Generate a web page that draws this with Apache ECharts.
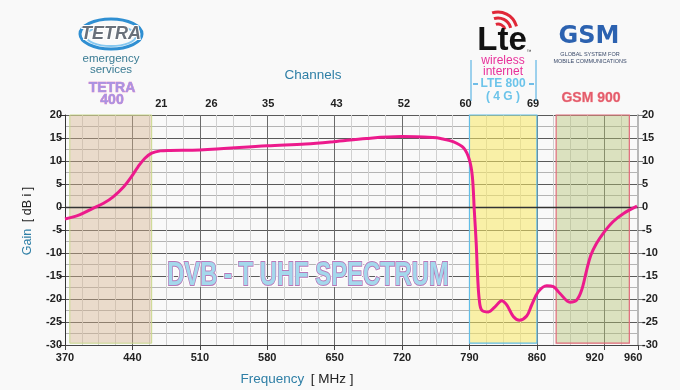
<!DOCTYPE html>
<html><head><meta charset="utf-8">
<script src="https://cdn.jsdelivr.net/npm/echarts@6/dist/echarts.min.js"></script>
<style>html,body{margin:0;padding:0;background:#f9f9f9}#c{width:680px;height:390px}</style>
</head><body><div id="c"></div>
<script>
// ---- data ----
const freqMHz = [370,385,399,410,420,431,439,446,453,460,469,479,510,580,620,649,683,720,752,760,773,784,790,793,795,797,798.5,800.2,802.7,809.6,816.5,823.5,828.7,835.5,841.8,849.4,854.6,861.5,870.2,877.1,884,894.4,901.4,906.6,911.7,916,922,930,939,950,964];
const gainDBi = [-2.6,-1.7,-0.3,0.8,2.2,4.4,6.6,8.8,10.6,11.7,12.2,12.3,12.4,13.3,13.7,14.2,14.9,15.3,15.1,14.9,14.2,12.8,10.2,6.6,-0.7,-7.9,-15.2,-20.2,-22.4,-22.8,-21.7,-20.4,-21.3,-23.8,-24.6,-23.7,-21.3,-18.4,-17.1,-17.3,-18.8,-20.7,-20.2,-18,-13.7,-10.5,-7.9,-5.4,-3.2,-1.4,0.2];
const freqTickValues = [370,440,510,580,650,720,790,860,920,960];
const channelTickFreqs = [470,522,581,652,722,786,856];
const channelLabels = ['21','26','35','43','52','60','69'];
const bandNames = ['TETRA 400','LTE 800','GSM 900'];
const bandStart = [375,790,880];
const bandEnd = [460,860,956];
const bandTop = 20, bandBottom = -29.6;

const FONT = '"Liberation Sans", Arial, sans-serif';
const bandStyles = [
  {color:'rgba(214,178,140,0.42)', borderColor:'#c9d98c', borderWidth:1},
  {color:'rgba(250,234,100,0.55)', borderColor:'#62bde6', borderWidth:1.2},
  {color:'rgba(178,192,112,0.42)', borderColor:'#e06a7a', borderWidth:1.2}
];

const chart = echarts.init(document.getElementById('c'));
const lineData = freqMHz.map((f,i)=>[f,gainDBi[i]]);
const markAreaData = bandNames.map((n,i)=>[
  {name:n, xAxis:bandStart[i], yAxis:bandTop, itemStyle:bandStyles[i]},
  {xAxis:bandEnd[i], yAxis:bandBottom}
]);

const tickLabelStyle = {color:'#222', fontSize:11, fontWeight:'bold', fontFamily:FONT};

function txt(x,y,text,style,extra){
  return Object.assign({type:'text', x:x, y:y, z:10, style:Object.assign({text:text, align:'center', verticalAlign:'middle', textAlign:'center', textVerticalAlign:'middle'}, style)}, extra||{});
}

chart.setOption({
  backgroundColor:'#f9f9f9',
  animation:false,
  grid:{left:65, right:42, top:115, bottom:45},
  xAxis:[
    {type:'value', min:370, max:965, interval:17.5, position:'bottom',
     axisLine:{show:false}, axisTick:{show:false}, axisLabel:{show:false},
     splitLine:{show:true, lineStyle:{color:'#d0d0d0', width:1}}},
    {type:'value', min:370, max:965, interval:70, position:'bottom',
     axisLine:{show:true, onZero:false, lineStyle:{color:'#444', width:1}},
     axisTick:{show:true, length:5, lineStyle:{color:'#444'}},
     axisLabel:Object.assign({customValues:freqTickValues, margin:7}, tickLabelStyle),
     splitLine:{show:true, lineStyle:{color:'#6a6a6a', width:1}}},
    {type:'value', min:370, max:965, position:'top',
     axisLine:{show:false}, axisTick:{show:false}, splitLine:{show:false},
     axisLabel:Object.assign({customValues:channelTickFreqs, margin:6,
       formatter:function(v){const i=channelTickFreqs.indexOf(v); return i>=0?channelLabels[i]:'';}}, tickLabelStyle)}
  ],
  yAxis:[
    {type:'value', min:-30, max:20, interval:5, position:'left',
     axisLine:{show:true, lineStyle:{color:'#333'}},
     axisTick:{show:true, length:6, lineStyle:{color:'#333'}},
     axisLabel:Object.assign({margin:3}, tickLabelStyle),
     splitLine:{show:true, lineStyle:{color:'#5a5a5a', width:1}},
     minorTick:{show:false, splitNumber:2},
     minorSplitLine:{show:true, lineStyle:{color:'#b4b4b4', width:1}}},
    {type:'value', min:-30, max:20, interval:5, position:'right',
     axisLine:{show:true, lineStyle:{color:'#b8b8b8', width:2}},
     axisTick:{show:true, length:5, lineStyle:{color:'#777'}},
     axisLabel:Object.assign({margin:4}, tickLabelStyle),
     splitLine:{show:false}}
  ],
  series:[{
    type:'line', xAxisIndex:1, yAxisIndex:0, data:lineData,
    smooth:0.35, showSymbol:false, symbol:'none',
    lineStyle:{color:'#ec1a8c', width:3}, z:5,
    markArea:{silent:true, label:{show:false}, data:markAreaData},
    markLine:{silent:true, symbol:'none', label:{show:false},
      lineStyle:{color:'#333', width:1.3, type:'solid'}, data:[{yAxis:0}]}
  }],
  graphic:[
    // TETRA logo
    {type:'ellipse', z:9, shape:{cx:111, cy:34, rx:31, ry:15}, style:{fill:'none', stroke:'#2f8fd2', lineWidth:3}},
    {type:'ellipse', z:9, shape:{cx:111, cy:36, rx:25, ry:10}, style:{fill:'none', stroke:'#86c8f0', lineWidth:2}},
    txt(111,34,'TETRA',{font:'italic bold 18px '+FONT, fill:'#69707a', stroke:'#ffffff', lineWidth:2}),
    txt(111,59,'emergency',{font:'11.5px '+FONT, fill:'#3b7c94'}),
    txt(111,69.5,'services',{font:'11.5px '+FONT, fill:'#3b7c94'}),
    txt(112,88,'TETRA',{font:'bold 14px '+FONT, fill:'#a993e2', stroke:'#e070c0', lineWidth:0.6}),
    txt(112,100,'400',{font:'bold 14px '+FONT, fill:'#a993e2', stroke:'#e070c0', lineWidth:0.6}),
    // LTE logo
    {type:'arc', z:9, shape:{cx:498, cy:31, r:7, startAngle:-Math.PI*0.6, endAngle:-Math.PI*0.08}, style:{fill:'none', stroke:'#e02838', lineWidth:3}},
    {type:'arc', z:9, shape:{cx:498, cy:31, r:13, startAngle:-Math.PI*0.6, endAngle:-Math.PI*0.08}, style:{fill:'none', stroke:'#e02838', lineWidth:3}},
    {type:'arc', z:9, shape:{cx:498, cy:31, r:19, startAngle:-Math.PI*0.6, endAngle:-Math.PI*0.08}, style:{fill:'none', stroke:'#e02838', lineWidth:3}},
    txt(502,41,'Lte',{font:'bold 33px '+FONT, fill:'#111'}),
    txt(529,52,'™',{font:'5px '+FONT, fill:'#333'}),
    txt(503,61,'wireless',{font:'12px '+FONT, fill:'#e8309a'}),
    txt(503,72,'internet',{font:'12px '+FONT, fill:'#e8309a'}),
    txt(503,84,'LTE 800',{font:'bold 12px '+FONT, fill:'#6cc4ea'}),
    txt(503,97,'( 4 G )',{font:'bold 12px '+FONT, fill:'#6cc4ea'}),
    {type:'line', z:9, shape:{x1:471,y1:60,x2:471,y2:101}, style:{stroke:'#40a8e0', lineWidth:1}},
    {type:'line', z:9, shape:{x1:536,y1:60,x2:536,y2:101}, style:{stroke:'#40a8e0', lineWidth:1}},
    {type:'line', z:9, shape:{x1:473,y1:84,x2:478,y2:84}, style:{stroke:'#40a8e0', lineWidth:1.5}},
    {type:'line', z:9, shape:{x1:529,y1:84,x2:534,y2:84}, style:{stroke:'#40a8e0', lineWidth:1.5}},
    // GSM logo
    txt(589,37,'GSM',{font:'bold 24px "DejaVu Sans", sans-serif', fill:'#2c62b0'}),
    txt(590,54,'GLOBAL SYSTEM FOR',{font:'5.5px '+FONT, fill:'#3a4a6a'}),
    txt(590,61.5,'MOBILE COMMUNICATIONS',{font:'5.5px '+FONT, fill:'#3a4a6a'}),
    txt(591,98,'GSM 900',{font:'bold 14px '+FONT, fill:'#e45c6c', stroke:'#f6b4b4', lineWidth:0.6}),
    // titles
    txt(313,75,'Channels',{font:'13.5px '+FONT, fill:'#2f7fa6'}),
    txt(297,379,'{a|Frequency}  {b|[ MHz ]}',{rich:{a:{fontSize:13.5, fontFamily:FONT, fill:'#2f7fa6'}, b:{fontSize:13.5, fontFamily:FONT, fill:'#222'}}}),
    txt(28,221,'{a|Gain}  {b|[ dB i ]}',{rich:{a:{fontSize:12.5, fontFamily:FONT, fill:'#2f7fa6'}, b:{fontSize:12.5, fontFamily:FONT, fill:'#222'}}},{rotation:Math.PI/2}),
    // DVB-T title
    txt(308,276,'DVB - T UHF SPECTRUM',{font:'bold 34px '+FONT, fill:'#ffffff', stroke:'#ffffff', lineWidth:4},{scaleX:0.7}),
    txt(308,276,'DVB - T UHF SPECTRUM',{font:'bold 34px '+FONT, fill:'#a4d8ec', stroke:'#b878b8', lineWidth:2},{scaleX:0.7})
  ]
});
</script></body></html>
